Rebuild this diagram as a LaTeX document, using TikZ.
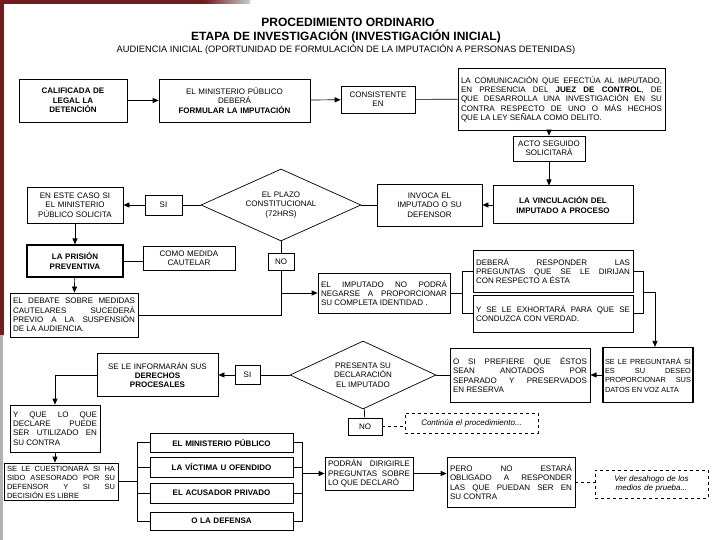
\documentclass[tikz,border=0pt]{standalone}
\usepackage{fontspec}
\setmainfont{Liberation Sans}
\usepackage{xcolor}
\usepackage{tikz}
\usetikzlibrary{positioning, arrows.meta, shapes.geometric}
\definecolor{framered}{RGB}{112,28,32}
\hyphenpenalty=10000
\exhyphenpenalty=10000

\begin{document}
\begin{tikzpicture}[x=1pt, y=-1pt,
    box/.style={draw, line width=0.7pt, inner xsep=3pt, inner ysep=1pt, font=\fontsize{8}{9.3}\selectfont, align=center},
    jbox/.style={box, align=justify},
    heavy/.style={line width=1.2pt},
    choice/.style={draw, diamond, aspect=2.2, line width=0.7pt, inner sep=0pt, font=\fontsize{8}{9.3}\selectfont, align=center},
    note/.style={draw, dashed, line width=0.6pt, inner xsep=3pt, inner ysep=1pt, font=\fontsize{8}{9.3}\selectfont\itshape, align=center},
    title/.style={font=\fontsize{12}{14}\selectfont\bfseries},
    subtitle/.style={font=\fontsize{9.3}{11}\selectfont},
    link/.style={line width=0.7pt},
    arr/.style={link, -{Triangle[length=6pt, width=5pt]}}
]
\useasboundingbox (0,0) rectangle (720,540);

% Titles
\node[title] (t1) at (348,22) {PROCEDIMIENTO ORDINARIO};
\node[title] (t2) at (346,36) {ETAPA DE INVESTIGACIÓN (INVESTIGACIÓN INICIAL)};
\node[subtitle] (t3) at (346,49) {AUDIENCIA INICIAL (OPORTUNIDAD DE FORMULACIÓN DE LA IMPUTACIÓN A PERSONAS DETENIDAS)};

% Top row
\node[box, text width=102pt, minimum height=43pt, font=\fontsize{8}{9.3}\selectfont\bfseries] (calif) at (73,100.5) {CALIFICADA DE\\LEGAL LA\\DETENCIÓN};
\node[box, text width=145pt, minimum height=43pt] (formular) at (234.5,100.5) {EL MINISTERIO PÚBLICO\\DEBERÁ\\\textbf{FORMULAR LA IMPUTACIÓN}};
\node[box, text width=68pt, minimum height=27pt] (consist) at (378,99.5) {CONSISTENTE\\EN};
\node[jbox, text width=201pt, minimum height=62pt] (comunic) at (561.5,99) {LA COMUNICACIÓN QUE EFECTÚA AL IMPUTADO,\linebreak EN PRESENCIA DEL \textbf{JUEZ DE CONTROL}, DE\linebreak QUE DESARROLLA UNA INVESTIGACIÓN EN SU\linebreak CONTRA RESPECTO DE UNO O MÁS HECHOS\linebreak QUE LA LEY SEÑALA COMO DELITO.};
\node[box, text width=66pt, minimum height=25pt] (acto) at (549,148.5) {ACTO SEGUIDO\\SOLICITARÁ};
\node[box, line width=1pt, text width=134pt, minimum height=38pt, font=\fontsize{8}{9.3}\selectfont\bfseries] (vincul) at (563,205) {LA VINCULACIÓN DEL\\IMPUTADO A PROCESO};
\node[box, text width=99pt, minimum height=42pt] (invoca) at (429.5,205) {INVOCA EL\\IMPUTADO O SU\\DEFENSOR};

% Plazo constitucional
\node[choice, minimum width=160pt, minimum height=72pt] (plazo) at (281,205) {EL PLAZO\\CONSTITUCIONAL\\(72HRS)};
\node[box, text width=31pt, minimum height=20pt] (si1) at (163.5,205) {SI};
\node[box, text width=90pt, minimum height=36pt] (caso) at (75,205) {EN ESTE CASO SI\\EL MINISTERIO\\PÚBLICO SOLICITA};
\node[box, heavy, text width=90pt, minimum height=32pt, font=\fontsize{8}{9.3}\selectfont\bfseries] (prision) at (75,261) {LA PRISIÓN\\PREVENTIVA};
\node[box, text width=86pt, minimum height=24pt] (cautelar) at (189,258) {COMO MEDIDA\\CAUTELAR};
\node[jbox, text width=122pt, minimum height=44pt] (debate) at (74,315) {EL DEBATE SOBRE MEDIDAS\linebreak CAUTELARES SUCEDERÁ\linebreak PREVIO A LA SUSPENSIÓN\linebreak DE LA AUDIENCIA.};
\node[box, text width=20pt, minimum height=17pt] (no1) at (281,261.5) {NO};

% Identidad
\node[jbox, text width=126pt, minimum height=40pt] (imput) at (384,293) {EL IMPUTADO NO PODRÁ\linebreak NEGARSE A PROPORCIONAR\linebreak SU COMPLETA IDENTIDAD .};
\node[jbox, text width=154pt, minimum height=42pt] (resp) at (553,271) {DEBERÁ RESPONDER LAS\linebreak PREGUNTAS QUE SE LE DIRIJAN\linebreak CON RESPECTO A ÉSTA};
\node[jbox, text width=154pt, minimum height=37pt] (exhort) at (553,313.5) {Y SE LE EXHORTARÁ PARA QUE SE\linebreak CONDUZCA CON VERDAD.};
\node[jbox, heavy, inner xsep=2pt, text width=86pt, minimum height=55pt, font=\fontsize{7.4}{9.3}\selectfont] (preg) at (648,375) {SE LE PREGUNTARÁ SI\linebreak ES SU DESEO\linebreak PROPORCIONAR SUS\linebreak DATOS EN VOZ ALTA};
\node[jbox, line width=1pt, text width=134pt, minimum height=54pt] (anot) at (520,375) {O SI PREFIERE QUE ÉSTOS\linebreak SEAN ANOTADOS POR\linebreak SEPARADO Y PRESERVADOS\linebreak EN RESERVA};

% Declaracion
\node[choice, minimum width=146pt, minimum height=68pt] (presenta) at (363,375) {PRESENTA SU\\DECLARACIÓN\\EL IMPUTADO};
\node[box, text width=19pt, minimum height=19pt] (si2) at (247.5,375) {SI};
\node[box, text width=115pt, minimum height=43pt] (derechos) at (157.5,375) {SE LE INFORMARÁN SUS\\\textbf{DERECHOS}\\\textbf{PROCESALES}};
\node[jbox, text width=84pt, minimum height=47pt] (declare) at (55,428.5) {Y QUE LO QUE\linebreak DECLARE PUEDE\linebreak SER UTILIZADO EN\linebreak SU CONTRA};
\node[jbox, text width=108pt, minimum height=37pt, font=\fontsize{7.5}{9.1}\selectfont] (cuest) at (61,481.5) {SE LE CUESTIONARÁ SI HA\linebreak SIDO ASESORADO POR SU\linebreak DEFENSOR Y SI SU\linebreak DECISIÓN ES LIBRE};
\node[box, text width=28pt, minimum height=17pt] (no2) at (365,426.5) {NO};
\node[note, text width=127pt, minimum height=20pt] (continua) at (471.5,423) {Continúa el procedimiento...};

% Partes
\node[box, text width=137pt, minimum height=19pt, font=\fontsize{8}{9.3}\selectfont\bfseries] (mp) at (221.5,442.5) {EL MINISTERIO PÚBLICO};
\node[box, text width=137pt, minimum height=20pt, font=\fontsize{8}{9.3}\selectfont\bfseries] (victima) at (221.5,467) {LA VÍCTIMA U OFENDIDO};
\node[box, text width=137pt, minimum height=20pt, font=\fontsize{8}{9.3}\selectfont\bfseries] (acusador) at (221.5,493) {EL ACUSADOR PRIVADO};
\node[box, text width=137pt, minimum height=18pt, font=\fontsize{8}{9.3}\selectfont\bfseries] (defensa) at (221.5,521) {O LA DEFENSA};
\node[jbox, text width=82pt, minimum height=33pt] (podran) at (369,473.5) {PODRÁN DIRIGIRLE\linebreak PREGUNTAS SOBRE\linebreak LO QUE DECLARÓ};
\node[jbox, text width=122pt, minimum height=50pt] (pero) at (511,482) {PERO NO ESTARÁ\linebreak OBLIGADO A RESPONDER\linebreak LAS QUE PUEDAN SER EN\linebreak SU CONTRA};
\node[note, text width=107pt, minimum height=28pt] (desahogo) at (651.5,484) {Ver desahogo de los\\medios de prueba...};

% Junctions
\coordinate (lb1) at (463,293);
\coordinate (rb1) at (643,292);
\coordinate (rb2) at (655,292);
\coordinate (lb2) at (138,481.5);
\coordinate (rb3) at (302,473.5);

% Links
\draw[arr] (calif) -- (formular);
\draw[arr] (formular) -- (consist);
\draw[link] (consist) -- (comunic);
\draw[arr] (acto.north |- comunic.south) -- (acto.north);
\draw[arr] (acto.south) -- (acto.south |- vincul.north);
\draw[arr] (vincul) -- (invoca);
\draw[link] (invoca) -- (plazo);
\draw[link] (plazo) -- (si1);
\draw[arr] (si1) -- (caso);
\draw[arr] (caso) -- (prision);
\draw[link] (prision.east) -- (prision.east -| cautelar.west);
\draw[arr] (prision) -- (debate);
\draw[link] (plazo) -- (no1);
\draw[link] (no1.south) -- (no1.south |- debate.east) -- (debate.east);
\draw[arr] (no1.south |- imput.west) -- (imput.west);
\draw[link] (imput.east) -- (lb1);
\draw[link] (resp.west) -- ++(-10,0) |- (exhort.west);
\draw[link] (resp.east) -- ++(10,0) |- (exhort.east);
\draw[arr] (rb1) -- (rb2) -- (rb2 |- preg.north);
\draw[arr] (preg) -- (anot);
\draw[link] (anot) -- (presenta);
\draw[link] (presenta) -- (si2);
\draw[arr] (si2) -- (derechos);
\draw[arr] (derechos.west) -| (declare.north);
\draw[arr] (declare) -- (cuest.north -| declare.south);
\draw[link] (presenta) -- (no2);
\draw[link, dashed] (no2) -- (no2 -| continua.west);
\draw[link] (cuest.east) -- (lb2);
\draw[link] (mp.west) -- ++(-12,0) |- (defensa.west);
\draw[link] (victima.west) -- ++(-12,0);
\draw[link] (acusador.west) -- ++(-12,0);
\draw[link] (mp.east) -- ++(9,0) |- (defensa.east);
\draw[link] (victima.east) -- ++(9,0);
\draw[link] (acusador.east) -- ++(9,0);
\draw[arr] (rb3) -- (podran.west);
\draw[arr] (podran.east) -- (podran.east -| pero.west);
\draw[link, dashed] (pero.east) -- (pero.east -| desahogo.west);

% Frame of the scan
\fill[framered] (0,0) rectangle (205,4);
\shade[left color=framered, right color=gray!40] (205,0) rectangle (250,4);
\fill[framered] (0,0) rectangle (4,335);
\fill[gray!60] (0,335) rectangle (3,540);
\end{tikzpicture}
\end{document}
